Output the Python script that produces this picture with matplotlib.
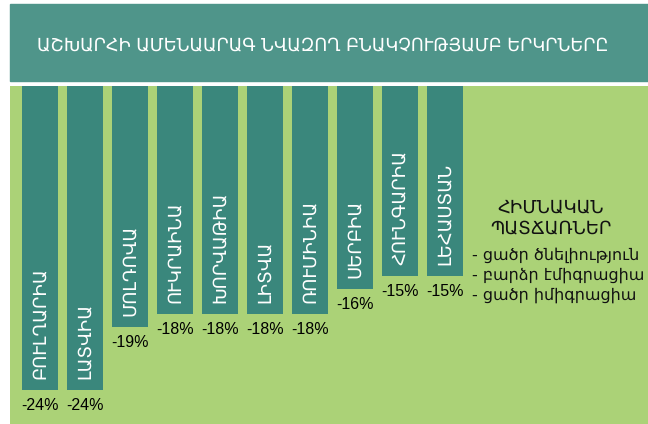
import matplotlib.pyplot as plt
from matplotlib.patches import Rectangle

title = "ԱՇԽԱՐՀԻ ԱՄԵՆԱԱՐԱԳ ՆՎԱԶՈՂ ԲՆԱԿՉՈՒԹՅԱՄԲ ԵՐԿՐՆԵՐԸ"
countries = ["ԲՈՒԼՂԱՐԻԱ", "ԼԱՏՎԻԱ", "ՄՈԼԴՈՎԱ", "ՈՒԿՐԱԻՆԱ", "ԽՈՐՎԱԹԻԱ",
             "ԼԻՏՎԱ", "ՌՈՒՄԻՆԻԱ", "ՍԵՐԲԻԱ", "ՀՈՒՆԳԱՐԻԱ", "ԼԵՀԱՍՏԱՆ"]
change = [-24, -24, -19, -18, -18, -18, -18, -16, -15, -15]
reasons_title = "ՀԻՄՆԱԿԱՆ\nՊԱՏՃԱՌՆԵՐ"
reasons = ["- ցածր ծնելիություն", "- բարձր էմիգրացիա", "- ցածր իմիգրացիա"]

banner_col = "#4f958a"
bar_col = "#3a877c"
green = "#abd277"

W, H = 648, 424
fig = plt.figure(figsize=(W / 100, H / 100), dpi=100)
fig.patch.set_facecolor("white")

# title banner
fig.patches.append(Rectangle((10 / W, (H - 81) / H), (W - 10) / W, 77 / H,
                             transform=fig.transFigure, color=banner_col, zorder=0))
fig.text(37 / W, (H - 45) / H, title, color="white", fontsize=12.7,
         family="DejaVu Sans", va="center", ha="left")

# chart area
ax = fig.add_axes([10 / W, 0, (W - 10) / W, (H - 86) / H])
ax.set_facecolor(green)
for s in ax.spines.values():
    s.set_visible(False)
ax.set_xticks([])
ax.set_yticks([])

x = list(range(len(countries)))
ax.bar(x, change, width=0.8, color=bar_col, align="center")
ax.set_xlim((10 - 40) / 45, (W - 40) / 45)
ax.set_ylim(-24 * 338 / 304, 0)

for i, (name, v) in enumerate(zip(countries, change)):
    ax.annotate(name, (i, v), xytext=(0, 8), textcoords="offset points",
                rotation=90, ha="center", va="bottom", color="white",
                fontsize=13, family="DejaVu Sans")
    ax.annotate(f"{v}%", (i, v), xytext=(0, -6), textcoords="offset points",
                ha="center", va="top", color="black", fontsize=11.5,
                family="Liberation Sans")

fig.text(551 / W, (H - 218) / H, reasons_title, ha="center", va="center",
         fontsize=13, family="DejaVu Sans", linespacing=1.2, color="#111111")
for k, r in enumerate(reasons):
    fig.text(472 / W, (H - 255 - 20 * k) / H, r, ha="left", va="center",
             fontsize=11.5, family="DejaVu Sans", color="#111111")

fig.savefig("out.png", dpi=100)
